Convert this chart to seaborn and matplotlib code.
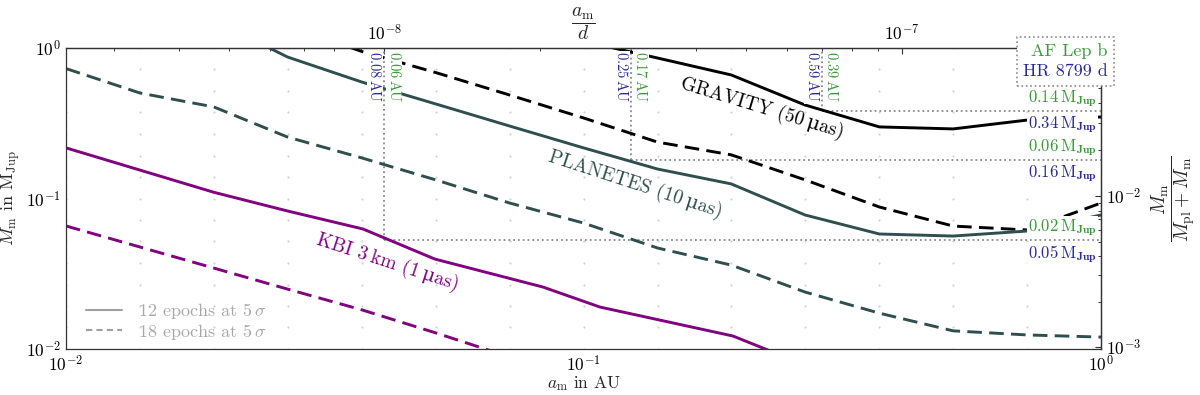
import pandas as pd
import matplotlib.pyplot as plt
import seaborn as sns
from matplotlib.lines import Line2D

OUTPUT_PATH = "out.png"

# grid of the detection-limit maps: semi-major axis (AU) and moon mass (M_Jup)
grid_a = [0.01, 0.0139, 0.0193, 0.0268, 0.0373, 0.0518, 0.0720, 0.1,
          0.139, 0.193, 0.268, 0.373, 0.518, 0.720, 1.0]
grid_m = [0.01, 0.0139, 0.0193, 0.0268, 0.0373, 0.0518, 0.0720, 0.1,
          0.139, 0.193, 0.268, 0.373, 0.518, 0.720, 1.0]

# detection limits in M_Jup (12 epochs = solid, 18 epochs = dashed)
gravity_12 = [1.11, 0.858, 0.662, 0.418, 0.299, 0.290, 0.332, 0.348]          # grid_a[7:]
gravity_18 = [1.41, 0.948, 0.687, 0.487, 0.343, 0.237, 0.195, 0.133,
              0.0878, 0.0656, 0.0618, 0.0933]                                  # grid_a[3:]
planetes_12 = [1.53, 0.871, 0.594, 0.425, 0.303, 0.217, 0.157, 0.125,
               0.0777, 0.0581, 0.0563, 0.0608, 0.0777]                          # grid_a[2:]
planetes_18 = [0.73, 0.502, 0.406, 0.256, 0.186, 0.133, 0.0933, 0.0687,
               0.0469, 0.0361, 0.0239, 0.0173, 0.0132, 0.0124, 0.0120]         # grid_a
kbi_12_a = [0.01, 0.0193, 0.0268, 0.0375, 0.0516, 0.0835, 0.1076, 0.1944, 0.268]
kbi_12 = [0.217, 0.110, 0.0826, 0.0627, 0.0396, 0.0258, 0.0190, 0.0122, 0.00783]
kbi_18 = [0.0657, 0.0476, 0.0345, 0.0250, 0.0182, 0.0128, 0.00885, 0.00622]   # grid_a[:8]

instruments = ["GRAVITY", "PLANETES", "KBI"]
instrument_labels = ["GRAVITY (50\u2009\u03bcas)", "PLANETES (10\u2009\u03bcas)",
                     "KBI 3\u2009km (1\u2009\u03bcas)"]
instrument_colors = ["black", "#2f4f4f", "#800080"]
epochs = ["12", "18"]
epoch_labels = [r"12 epochs at 5$\,\sigma$", r"18 epochs at 5$\,\sigma$"]

# reference separations (a_m/d) and mass levels for the two planets
ref_ratio = [1e-8, 3e-8, 7e-8]
ref_mass = [0.053, 0.18, 0.38]
star_names = ["AF Lep b", "HR 8799 d"]
star_colors = ["#3a9a3a", "#2a2a9a"]
au_af = ["0.06", "0.17", "0.39"]
au_hr = ["0.08", "0.25", "0.59"]
mjup_af = ["0.02", "0.06", "0.14"]
mjup_hr = ["0.05", "0.16", "0.34"]

D_AU = 20 * 206264.8   # 20 pc in AU
M_PL = 10.3


def main():
    sns.set_style("white")
    plt.rcParams["font.family"] = ["cmr10", "DejaVu Serif"]
    plt.rcParams["mathtext.fontset"] = "cm"
    plt.rcParams["axes.formatter.use_mathtext"] = True
    plt.rcParams["axes.unicode_minus"] = False

    curves = [
        ("GRAVITY", "12", grid_a[7:], gravity_12),
        ("GRAVITY", "18", grid_a[3:], gravity_18),
        ("PLANETES", "12", grid_a[2:], planetes_12),
        ("PLANETES", "18", grid_a, planetes_18),
        ("KBI", "12", kbi_12_a, kbi_12),
        ("KBI", "18", grid_a[:8], kbi_18),
    ]
    rows = []
    for inst, ep, a_vals, m_vals in curves:
        for a, m in zip(a_vals, m_vals):
            rows.append({"instrument": inst, "epochs": ep, "a": a, "mass": m})
    df = pd.DataFrame(rows)

    grid = pd.DataFrame([(a, m) for a in grid_a for m in grid_m], columns=["a", "mass"])

    fig = plt.figure(figsize=(12, 3.95), dpi=100)
    ax = fig.add_axes([66 / 1200, 1 - 349 / 395, 1035 / 1200, 301 / 395])
    ax.set_xscale("log")
    ax.set_yscale("log")

    sns.scatterplot(data=grid, x="a", y="mass", color="#d2d2d2", s=2.5,
                    linewidth=0, legend=False, ax=ax, zorder=1)

    # reference lines for the planets
    ref_a = [r * D_AU for r in ref_ratio]
    ax.vlines(ref_a, ref_mass, 1.0, colors="#8a8a8a", linestyles=":", lw=1.3, zorder=1.5)
    ax.hlines(ref_mass, ref_a, 1.0, colors="#8a8a8a", linestyles=":", lw=1.3, zorder=1.5)

    sns.lineplot(data=df, x="a", y="mass", hue="instrument", style="epochs",
                 hue_order=instruments, style_order=epochs,
                 palette=dict(zip(instruments, instrument_colors)),
                 dashes={"12": "", "18": (5, 2.5)},
                 estimator=None, sort=False, linewidth=2.1, legend=False,
                 ax=ax, zorder=2)

    ax.set_xlim(0.01, 1.0)
    ax.set_ylim(0.01, 1.0)

    # instrument labels
    text_pos = [(0.221, 0.40, -17), (0.126, 0.123, -18), (0.0419, 0.0379, -18)]
    for label, color, (x, y, rot) in zip(instrument_labels, instrument_colors, text_pos):
        ax.text(x, y, label, color=color, fontsize=14, rotation=rot,
                ha="center", va="center", rotation_mode="anchor", zorder=4)

    box = dict(facecolor="white", edgecolor="none", pad=0.6)
    for a, lvl, af, hr, maf, mhr in zip(ref_a, ref_mass, au_af, au_hr, mjup_af, mjup_hr):
        ax.annotate(hr + r"$\,$AU", xy=(a, 1.0), xytext=(-1.5, -2.5), textcoords="offset points",
                    ha="right", va="top", rotation=270, fontsize=10.5,
                    color=star_colors[1], bbox=box, zorder=4)
        ax.annotate(af + r"$\,$AU", xy=(a, 1.0), xytext=(1.5, -2.5), textcoords="offset points",
                    ha="left", va="top", rotation=270, fontsize=10.5,
                    color=star_colors[0], bbox=box, zorder=4)
        ax.annotate(maf + r"$\,\mathrm{M}_\mathbf{Jup}$", xy=(1.0, lvl), xytext=(-3, 1.5),
                    textcoords="offset points", ha="right", va="bottom", fontsize=12,
                    color=star_colors[0], bbox=box, zorder=4)
        ax.annotate(mhr + r"$\,\mathrm{M}_\mathbf{Jup}$", xy=(1.0, lvl), xytext=(-3, -2),
                    textcoords="offset points", ha="right", va="top", fontsize=12,
                    color=star_colors[1], bbox=box, zorder=4)

    # secondary axes
    top = ax.secondary_xaxis("top", functions=(lambda a: a / D_AU, lambda r: r * D_AU))
    right = ax.secondary_yaxis("right", functions=(lambda m: m / (m + M_PL),
                                                   lambda q: q * M_PL / (1 - q)))

    for axis in (ax, top, right):
        axis.tick_params(which="both", direction="in", colors="#333333",
                         labelcolor="black", labelsize=12.5)
        axis.tick_params(which="major", length=4, width=0.8)
        axis.tick_params(which="minor", length=2.2, width=0.7)
    for sp in list(ax.spines.values()) + list(top.spines.values()) + list(right.spines.values()):
        sp.set_color("#333333")
        sp.set_linewidth(0.9)

    ax.set_xlabel(r"$a_\mathrm{m}$ in AU", fontsize=12.5, labelpad=0)
    ax.set_ylabel(r"$M_\mathrm{m}$ in $\mathrm{M_{Jup}}$", fontsize=13, labelpad=2)
    # top axis label sits between the tick labels, as in the original
    ax.text(0.5, 1.02, r"$\dfrac{a_\mathrm{m}}{d}$", transform=ax.transAxes,
            ha="center", va="bottom", fontsize=14)
    right.set_ylabel(r"$\dfrac{M_\mathrm{m}}{M_\mathrm{pl}+M_\mathrm{m}}$", fontsize=14, labelpad=6)

    # legends
    epoch_handles = [Line2D([], [], color="#a0a0a0", lw=1.5, ls="-"),
                     Line2D([], [], color="#a0a0a0", lw=1.5, ls=(0, (3, 2)))]
    leg = ax.legend(epoch_handles, epoch_labels, loc="lower left",
                    bbox_to_anchor=(0.012, 0.0), frameon=False,
                    fontsize=13, labelcolor="#a8a8a8", handlelength=2.0,
                    handletextpad=0.9, labelspacing=0.05, borderaxespad=0.1,
                    borderpad=0.3)
    ax.add_artist(leg)

    star_handles = [Line2D([], [], alpha=0) for _ in star_names]
    leg2 = ax.legend(star_handles, star_names, loc="upper right",
                     bbox_to_anchor=(1.0126, 1.0365), handlelength=0, handletextpad=0,
                     markerfirst=False, labelcolor=star_colors, fontsize=13,
                     fancybox=False, framealpha=1, edgecolor="#8a8a8a",
                     borderpad=0.35, labelspacing=0.25, borderaxespad=0)
    leg2.get_frame().set_linestyle(":")
    leg2.get_frame().set_linewidth(1.2)
    leg2.set_zorder(10)

    fig.savefig(OUTPUT_PATH, dpi=100)
    plt.close(fig)


if __name__ == "__main__":
    main()
